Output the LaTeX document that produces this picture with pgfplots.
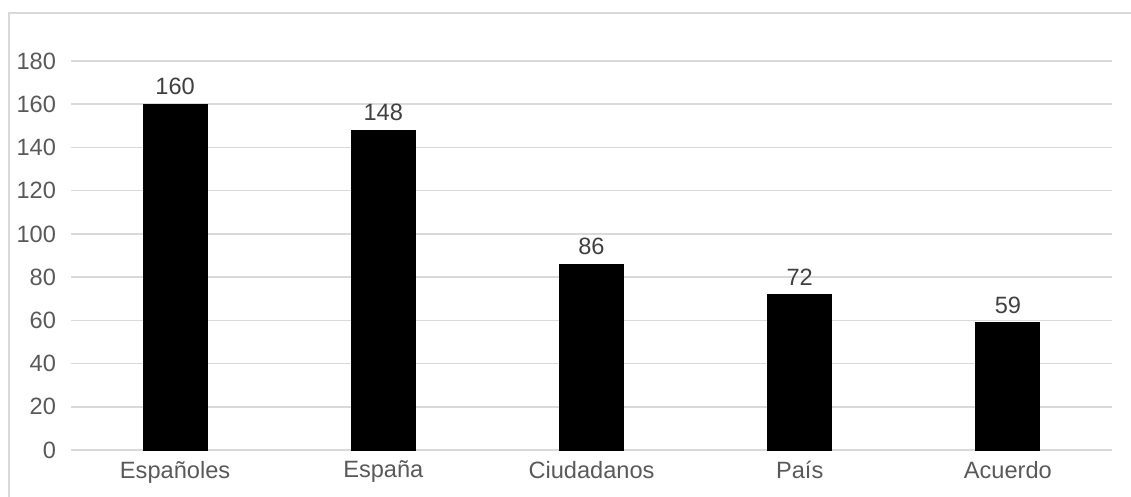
\documentclass[border=0pt]{standalone}
\usepackage{pgfplots}
\pgfplotsset{compat=1.18}
\usepackage{fontspec}
\setmainfont{Liberation Sans}
\definecolor{txt}{HTML}{595959}
\definecolor{gridc}{HTML}{D9D9D9}
\begin{document}
\begin{tikzpicture}
\useasboundingbox (0,0) rectangle (565.5pt,248.5pt);
\begin{scope}
\clip (0,0) rectangle (565.5pt,248.5pt);
\draw[gridc, line width=0.6pt] (4.5pt,-10pt) rectangle (580pt,242pt);
\end{scope}
\begin{axis}[
  at={(35.5pt,23.5pt)}, anchor=south west,
  scale only axis, width=520.5pt, height=194.5pt,
  xmin=-0.5, xmax=4.5, ymin=0, ymax=180,
  ytick={0,20,...,180},
  xtick={0,1,2,3,4},
  xticklabels={Españoles,España,Ciudadanos,País,Acuerdo},
  axis line style={draw=none},
  major tick length=0pt,
  xmajorgrids=false,
  ymajorgrids=true, major grid style={draw=gridc, line width=0.8pt},
  tick label style={font=\fontsize{11.8}{13}\selectfont, text=txt},
  /pgf/number format/assume math mode=true,
  yticklabel style={xshift=-4pt},
  xticklabel style={yshift=-2pt},
  ybar, bar width=32pt,
  nodes near coords,
  every node near coord/.append style={font=\fontsize{11.8}{13}\selectfont, text=black!75, yshift=1pt},
  clip=false,
]
\addplot[fill=black, draw=black] coordinates {(0,160) (1,148) (2,86) (3,72) (4,59)};
\end{axis}
\end{tikzpicture}
\end{document}
